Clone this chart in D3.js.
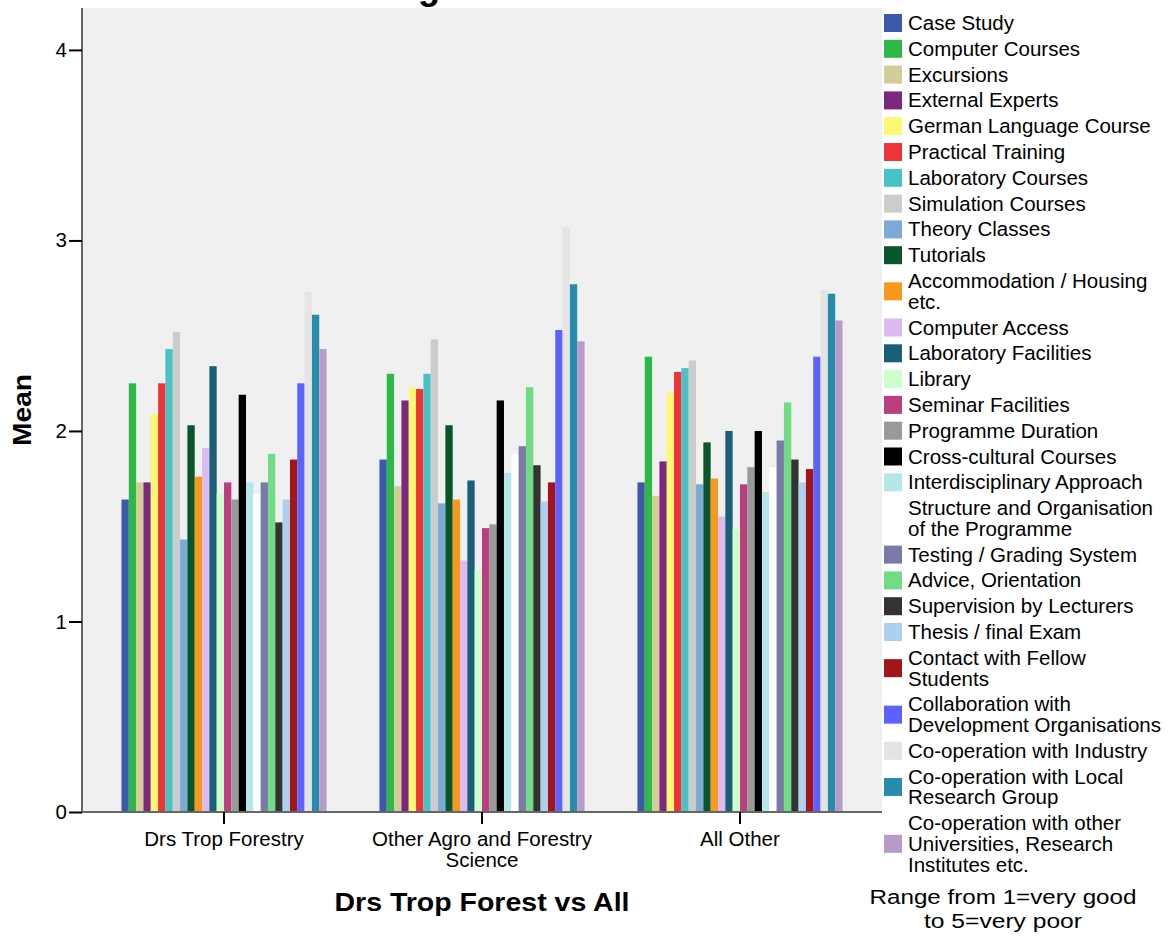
<!DOCTYPE html>
<html>
<head>
<meta charset="utf-8">
<script src="https://cdn.jsdelivr.net/npm/d3@7"></script>
<style>
  html, body { margin: 0; padding: 0; background: #ffffff; }
  svg { display: block; }
  text { font-family: "Liberation Sans", Arial, sans-serif; fill: #000; }
</style>
</head>
<body>
<div id="chart"></div>
<script>
// ---------------- data ----------------
const groups = ["Drs Trop Forestry", "Other Agro and Forestry Science", "All Other"];
const groupLabelLines = [["Drs Trop Forestry"], ["Other Agro and Forestry", "Science"], ["All Other"]];

const seriesNames = [
  "Case Study", "Computer Courses", "Excursions", "External Experts",
  "German Language Course", "Practical Training", "Laboratory Courses",
  "Simulation Courses", "Theory Classes", "Tutorials",
  "Accommodation / Housing etc.", "Computer Access", "Laboratory Facilities",
  "Library", "Seminar Facilities", "Programme Duration", "Cross-cultural Courses",
  "Interdisciplinary Approach", "Structure and Organisation of the Programme",
  "Testing / Grading System", "Advice, Orientation", "Supervision by Lecturers",
  "Thesis / final Exam", "Contact with Fellow Students",
  "Collaboration with Development Organisations", "Co-operation with Industry",
  "Co-operation with Local Research Group",
  "Co-operation with other Universities, Research Institutes etc."
];

const legendLines = [
  ["Case Study"], ["Computer Courses"], ["Excursions"], ["External Experts"],
  ["German Language Course"], ["Practical Training"], ["Laboratory Courses"],
  ["Simulation Courses"], ["Theory Classes"], ["Tutorials"],
  ["Accommodation / Housing", "etc."], ["Computer Access"], ["Laboratory Facilities"],
  ["Library"], ["Seminar Facilities"], ["Programme Duration"], ["Cross-cultural Courses"],
  ["Interdisciplinary Approach"], ["Structure and Organisation", "of the Programme"],
  ["Testing / Grading System"], ["Advice, Orientation"], ["Supervision by Lecturers"],
  ["Thesis / final Exam"], ["Contact with Fellow", "Students"],
  ["Collaboration with", "Development Organisations"], ["Co-operation with Industry"],
  ["Co-operation with Local", "Research Group"],
  ["Co-operation with other", "Universities, Research", "Institutes etc."]
];

const seriesColors = [
  "#3e58ac", "#2eb848", "#d3ce97", "#7c287d", "#fbf873", "#ef3338", "#48c2c5",
  "#cccccc", "#7aaad5", "#0a562c", "#f8981d", "#ddbaf1", "#1a5f76", "#ccffcc",
  "#bb3f7f", "#999999", "#000000", "#b6e7e8", "#ffffff", "#797aa7", "#70dc84",
  "#333333", "#acd0ee", "#a21619", "#5d61ff", "#e4e4e4", "#278bac", "#b89bc9"
];

const valuesDrsTrop = [1.64, 2.25, 1.73, 1.73, 2.09, 2.25, 2.43, 2.52, 1.43, 2.03,
  1.76, 1.91, 2.34, 1.67, 1.73, 1.64, 2.19, 1.73, 1.67, 1.73, 1.88, 1.52, 1.64, 1.85,
  2.25, 2.73, 2.61, 2.43];
const valuesOtherAgro = [1.85, 2.30, 1.71, 2.16, 2.23, 2.22, 2.30, 2.48, 1.62, 2.03,
  1.64, 1.32, 1.74, 1.27, 1.49, 1.51, 2.16, 1.78, 1.88, 1.92, 2.23, 1.82, 1.63, 1.73,
  2.53, 3.07, 2.77, 2.47];
const valuesAllOther = [1.73, 2.39, 1.66, 1.84, 2.20, 2.31, 2.33, 2.37, 1.72, 1.94,
  1.75, 1.55, 2.00, 1.48, 1.72, 1.81, 2.00, 1.68, 1.81, 1.95, 2.15, 1.85, 1.73, 1.80,
  2.39, 2.74, 2.72, 2.58];
const groupValues = [valuesDrsTrop, valuesOtherAgro, valuesAllOther];

const yTicks = [0, 1, 2, 3, 4];
const yMax = 4.22;

const yAxisTitle = "Mean";
const xAxisTitle = "Drs Trop Forest vs All";
const noteLines = ["Range from 1=very good", "to 5=very poor"];

// ---------------- layout ----------------
const W = 1171, H = 937;
const plot = { left: 82, right: 882, top: 8, bottom: 812 };

const svg = d3.select("#chart").append("svg")
  .attr("width", W).attr("height", H);

svg.append("rect").attr("width", W).attr("height", H).attr("fill", "#ffffff");

// title remnant (the reference's title is cut at the top edge)
svg.append("text")
  .attr("x", 429).attr("y", -1)
  .attr("text-anchor", "middle")
  .style("font-size", "36px").style("font-weight", "bold")
  .text("g");

const x = d3.scaleBand()
  .domain(groups)
  .range([plot.left, plot.right])
  .paddingInner(0.205)
  .paddingOuter(0.153);

const xInner = d3.scaleBand()
  .domain(seriesNames)
  .range([0, x.bandwidth()]);

const y = d3.scaleLinear().domain([0, yMax]).range([plot.bottom, plot.top]);

// plot background
svg.append("rect")
  .attr("x", plot.left).attr("y", plot.top)
  .attr("width", plot.right - plot.left).attr("height", plot.bottom - plot.top)
  .attr("fill", "#f0f0f0");

// bars
const gGroups = svg.append("g").selectAll("g")
  .data(groups)
  .join("g")
  .attr("transform", d => `translate(${x(d)},0)`);

gGroups.selectAll("rect")
  .data((g, gi) => seriesNames.map((s, si) => ({ s, si, v: groupValues[gi][si] })))
  .join("rect")
  .attr("x", d => xInner(d.s))
  .attr("y", d => y(d.v))
  .attr("width", xInner.bandwidth())
  .attr("height", d => y(0) - y(d.v))
  .attr("fill", d => seriesColors[d.si]);

// y axis
const yAxis = d3.axisLeft(y).tickValues(yTicks).tickFormat(d3.format("d"))
  .tickSize(13).tickPadding(2);
const yg = svg.append("g").attr("transform", `translate(${plot.left},0)`).call(yAxis);
yg.select(".domain").attr("stroke", "#666").attr("stroke-width", 2)
  .attr("d", `M0,${plot.top}V${plot.bottom}`);
yg.selectAll(".tick line").attr("stroke", "#000").attr("stroke-width", 2);
yg.selectAll(".tick text")
  .style("font-size", "20.5px")
  .style("font-family", "'Liberation Sans', Arial, sans-serif")
  .attr("fill", "#000");

// x axis
const xAxis = d3.axisBottom(x).tickSize(12).tickFormat("");
const xg = svg.append("g").attr("transform", `translate(0,${plot.bottom})`).call(xAxis);
xg.select(".domain").attr("stroke", "#666").attr("stroke-width", 2)
  .attr("d", `M${plot.left},0H${plot.right}`);
xg.selectAll(".tick line").attr("stroke", "#000").attr("stroke-width", 2);

// x tick labels (multi-line)
groups.forEach((g, i) => {
  const t = svg.append("text")
    .attr("x", x(g) + x.bandwidth() / 2)
    .attr("y", 846)
    .attr("text-anchor", "middle")
    .style("font-size", "20.5px");
  groupLabelLines[i].forEach((line, li) => {
    t.append("tspan").attr("x", x(g) + x.bandwidth() / 2)
      .attr("dy", li === 0 ? 0 : 20.7).text(line);
  });
});

// axis titles
svg.append("text")
  .attr("x", (plot.left + plot.right) / 2)
  .attr("y", 911)
  .attr("text-anchor", "middle")
  .style("font-size", "25px").style("font-weight", "bold")
  .attr("textLength", 295).attr("lengthAdjust", "spacingAndGlyphs")
  .text(xAxisTitle);

svg.append("text")
  .attr("transform", `translate(31,${(plot.top + plot.bottom) / 2}) rotate(-90)`)
  .attr("text-anchor", "middle")
  .style("font-size", "25px").style("font-weight", "bold")
  .attr("textLength", 72).attr("lengthAdjust", "spacingAndGlyphs")
  .text(yAxisTitle);

// legend
const legend = svg.append("g");
const rowH = 25.8, lineH = 20.7;
let cy = 23;
legendLines.forEach((lines, i) => {
  const n = lines.length;
  const blockCenter = cy + (n - 1) * lineH / 2;
  legend.append("rect")
    .attr("x", 884).attr("y", blockCenter - 9)
    .attr("width", 18).attr("height", 18)
    .attr("fill", seriesColors[i]);
  const t = legend.append("text")
    .attr("x", 908).attr("y", cy + 7)
    .style("font-size", "20.5px");
  lines.forEach((line, li) => {
    t.append("tspan").attr("x", 908).attr("dy", li === 0 ? 0 : lineH).text(line);
  });
  cy += rowH + (n - 1) * lineH;
});

// note under legend
const noteWidths = [267, 158];
noteLines.forEach((line, li) => {
  svg.append("text")
    .attr("x", 1003).attr("y", 904 + li * 23.5)
    .attr("text-anchor", "middle")
    .style("font-size", "20px")
    .attr("textLength", noteWidths[li]).attr("lengthAdjust", "spacingAndGlyphs")
    .text(line);
});
</script>
</body>
</html>
